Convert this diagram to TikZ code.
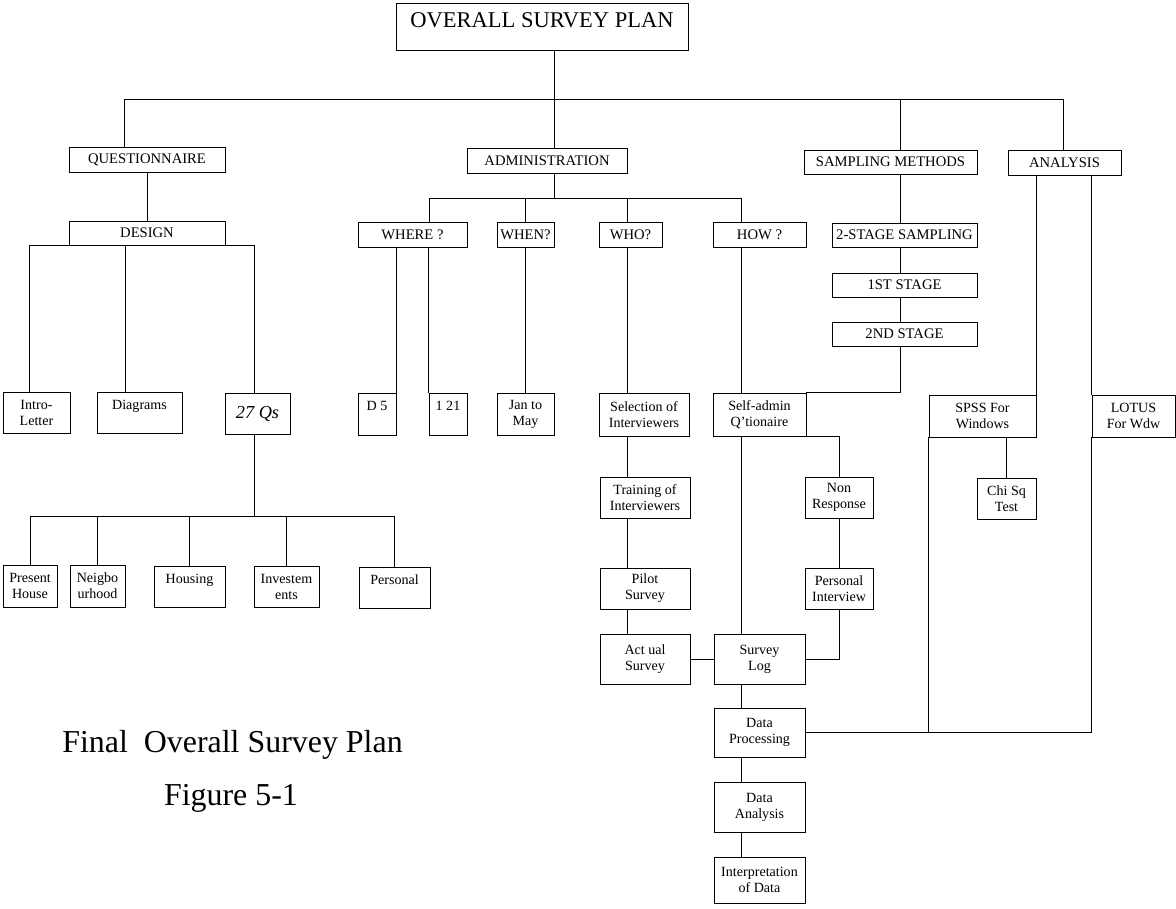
\documentclass[tikz,border=0pt]{standalone}
\usepackage{fontspec}
\setmainfont{Liberation Serif}

\begin{document}
\begin{tikzpicture}[x=0.025cm,y=-0.025cm]
                % Box style
                \tikzset{
                    box/.style={draw, line width=0.6pt, align=center, inner sep=1pt,
                        font=\fontsize{10}{11.4}\selectfont},
                    head/.style={box, font=\fontsize{10.4}{12}\selectfont},
                    sz/.style 2 args={minimum width=#1*0.025cm, minimum height=#2*0.025cm},
                    wire/.style={line width=0.6pt}
                }
                \useasboundingbox (0,0) rectangle (1176,908);

                % Top levels
                \node[head, sz={292}{47}, font=\fontsize{16}{19}\selectfont] (TITLE) at (542,26.5) {OVERALL SURVEY PLAN\\[-10.5pt]~};
                \node[head, sz={156}{25}] (QUE) at (147,159.5) {QUESTIONNAIRE};
                \node[head, sz={156}{24}] (DES) at (147,233) {DESIGN};
                \node[head, sz={160}{25}] (ADM) at (547,160.5) {ADMINISTRATION};
                \node[head, sz={173}{24}] (SAMP) at (890.5,162) {SAMPLING METHODS};
                \node[head, sz={113}{25}] (ANA) at (1064.5,162.5) {ANALYSIS};
                \node[head, sz={109}{25}] (WHERE) at (412.5,234.5) {WHERE ?};
                \node[head, sz={57}{25}] (WHEN) at (525.5,234.5) {WHEN?};
                \node[head, sz={63}{25}] (WHO) at (630.5,234.5) {WHO?};
                \node[head, sz={93}{25}] (HOW) at (759.5,234.5) {HOW ?};
                \node[head, sz={145}{24}] (TWO) at (904.5,235) {2-STAGE SAMPLING};
                \node[head, sz={145}{24}] (ST1) at (904.5,285) {1ST STAGE};
                \node[head, sz={145}{24}] (ST2) at (904.5,334) {2ND STAGE};

                % Questionnaire branch
                \node[box, sz={67}{41}] (INTRO) at (36.5,412.5) {Intro-\\Letter};
                \node[box, sz={85}{41}] (DIAG) at (139.5,412.5) {Diagrams\\~};
                \node[box, sz={65}{41}, font=\fontsize{13}{15}\itshape] (QS) at (257.5,413.5) {27 Qs};
                \node[box, sz={54}{42}] (PRES) at (30,586) {Present\\House};
                \node[box, sz={55}{42}] (NEIG) at (97.5,586) {Neigbo\\urhood};
                \node[box, sz={71}{41}] (HOUS) at (189.5,586.5) {Housing\\~};
                \node[box, sz={65}{41}] (INV) at (286.5,586.5) {Investem\\ents};
                \node[box, sz={71}{41}] (PERS) at (394.5,587.5) {Personal\\~};

                % Administration branch
                \node[box, sz={38}{42}] (D5) at (377,414) {D 5\\~};
                \node[box, sz={38}{42}] (I21) at (448,414) {1 21\\~};
                \node[box, sz={57}{42}] (JAN) at (525.5,414) {Jan to\\May};
                \node[box, sz={90}{43}] (SEL) at (644,414.5) {Selection of\\Interviewers};
                \node[box, sz={93}{43}] (SELF) at (759.5,414.5) {Self-admin\\Q'tionaire};
                \node[box, sz={90}{41}] (TRAIN) at (645,497.5) {Training of\\Interviewers};
                \node[box, sz={90}{41}] (PILOT) at (645,588.5) {Pilot\\Survey};
                \node[box, sz={90}{50}] (ACT) at (645,659) {Act ual\\Survey};
                \node[box, sz={68}{41}] (NONR) at (839,497.5) {Non\\Response};
                \node[box, sz={68}{41}] (PINT) at (839,588.5) {Personal\\Interview};
                \node[box, sz={91}{50}] (LOG) at (759.5,659) {Survey\\Log};
                \node[box, sz={91}{49}] (PROC) at (759.5,732.5) {Data\\Processing};
                \node[box, sz={91}{50}] (DANA) at (759.5,807) {Data\\Analysis};
                \node[box, sz={91}{46}] (INTERP) at (759.5,880) {Interpretation\\of Data};

                % Analysis branch
                \node[box, sz={107}{42}] (SPSS) at (982.5,416) {SPSS For\\Windows};
                \node[box, sz={83}{42}] (LOTUS) at (1133.5,416) {LOTUS\\For Wdw};
                \node[box, sz={59}{41}] (CHI) at (1006.5,498.5) {Chi Sq\\Test};

                % Caption
                \node[font=\fontsize{22.7}{27}\selectfont] (CAP) at (232.5,745) {Final\ \ Overall Survey Plan};
                \node[font=\fontsize{22.7}{27}\selectfont] (FIG) at (231,798) {Figure 5-1};

                % Runs of the connections
                \coordinate (kQ) at (124,99);
                \coordinate (kM) at (554,99);
                \coordinate (kS) at (900,99);
                \coordinate (kA) at (1063,99);
                \coordinate (dI) at (29,245);
                \coordinate (dD) at (125,245);
                \coordinate (dQ) at (254,245);
                \coordinate (qb) at (254,516);
                \coordinate (aW) at (429,198);
                \coordinate (aN) at (525,198);
                \coordinate (aO) at (627,198);
                \coordinate (aH) at (741,198);

                % Connection
                \draw[wire] (TITLE.south -| kM) -- (ADM.north -| kM);
                \draw[wire] (kQ) -- (kA);
                \draw[wire] (kQ) -- (QUE.north -| kQ);
                \draw[wire] (kS) -- (SAMP.north -| kS);
                \draw[wire] (kA) -- (ANA.north -| kA);

                \draw[wire] (QUE) -- (DES);
                \draw[wire] (dI) -- (dQ);
                \draw[wire] (dI) -- (INTRO.north -| dI);
                \draw[wire] (dD) -- (DIAG.north -| dD);
                \draw[wire] (dQ) -- (QS.north -| dQ);
                \draw[wire] (QS.south -| qb) -- (qb);
                \foreach \n in {PRES,NEIG,HOUS,INV,PERS}
                    \draw[wire] (qb) -| (\n.north);

                \draw[wire] (ADM.south -| kM) -- (kM |- aW);
                \draw[wire] (aW) -- (aH);
                \draw[wire] (aW) -- (WHERE.north -| aW);
                \draw[wire] (aN) -- (WHEN.north -| aN);
                \draw[wire] (aO) -- (WHO.north -| aO);
                \draw[wire] (aH) -- (HOW.north -| aH);
                \draw[wire] (WHERE.south -| D5.east) -- (D5.north east);
                \draw[wire] (WHERE.south -| I21.west) -- (I21.north west);
                \draw[wire] (WHEN) -- (JAN);
                \foreach \a/\b in {WHO/SEL,SEL/TRAIN,TRAIN/PILOT,PILOT/ACT}
                    \draw[wire] (\a.south -| aO) -- (\b.north -| aO);
                \foreach \a/\b in {HOW/SELF,SELF/LOG,LOG/PROC,PROC/DANA,DANA/INTERP}
                    \draw[wire] (\a.south -| aH) -- (\b.north -| aH);
                \draw[wire] (SELF.south east) -| (NONR.north);
                \draw[wire] (NONR) -- (PINT);
                \draw[wire] (PINT.south) |- (LOG.east);
                \draw[wire] (ACT) -- (LOG);

                \foreach \a/\b in {SAMP/TWO,TWO/ST1,ST1/ST2}
                    \draw[wire] (\a.south -| kS) -- (\b.north -| kS);
                \draw[wire] (ST2.south -| kS) |- (SELF.north east);

                \draw[wire] (ANA.south -| SPSS.east) -- (SPSS.north east);
                \draw[wire] (ANA.south -| LOTUS.west) -- (LOTUS.north west);
                \draw[wire] (SPSS.south -| CHI) -- (CHI);
                \draw[wire] (SPSS.south west) -- (SPSS.south west |- PROC.east);
                \draw[wire] (PROC.east) -| (LOTUS.south west);
            \end{tikzpicture}
\end{document}
